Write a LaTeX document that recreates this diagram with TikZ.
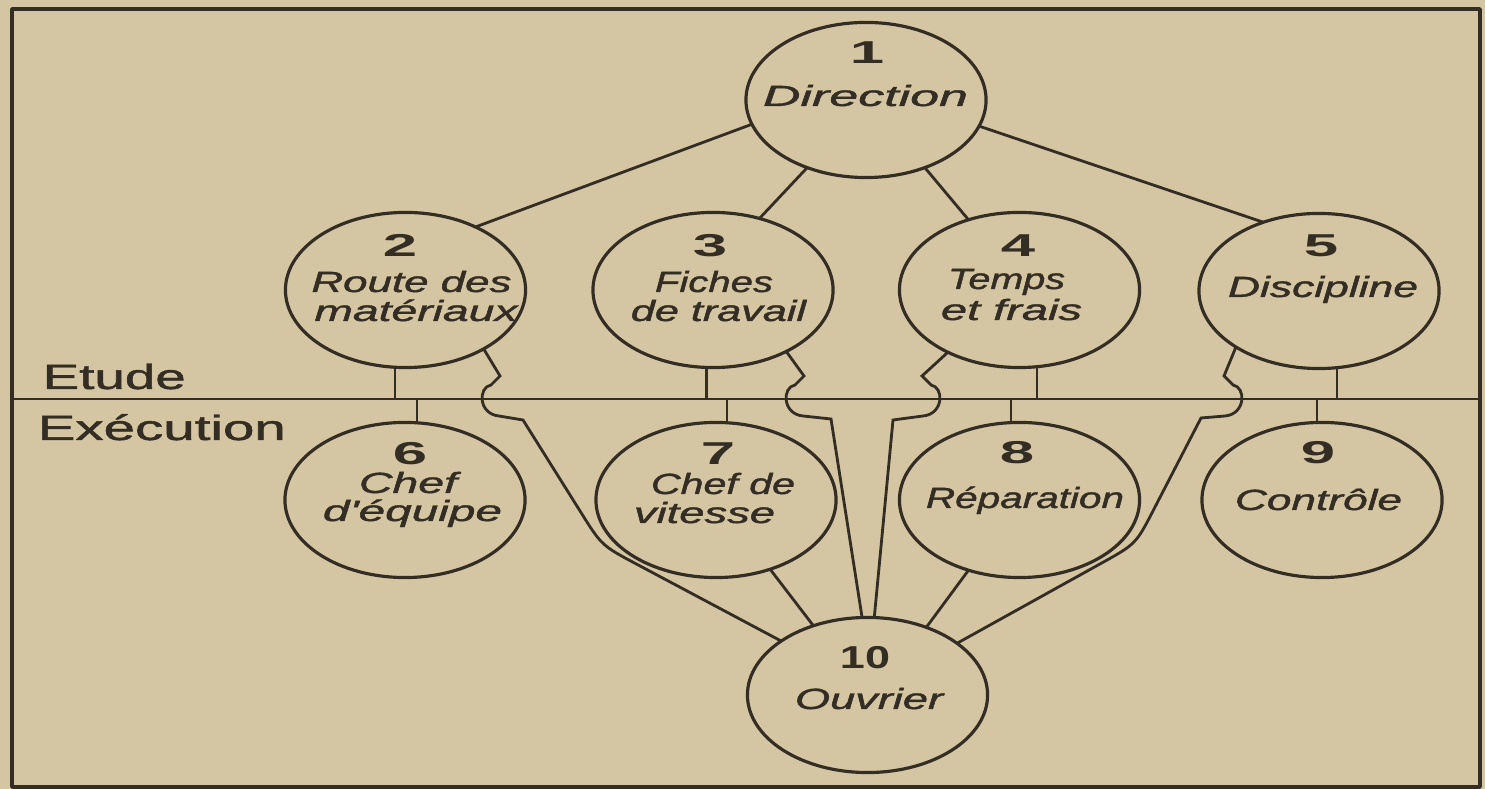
\documentclass[tikz,border=0pt]{standalone}
\usepackage{fontspec}
\setmainfont{Liberation Sans}
\newfontfamily\labfont[FakeBold=1.2]{Liberation Sans}
\usepackage{graphicx}
\usetikzlibrary{shapes.geometric}
\definecolor{paper}{RGB}{212,198,162}
\definecolor{ink}{RGB}{52,45,36}
\pgfdeclarelayer{back}
\pgfdeclarelayer{links}
\pgfsetlayers{back,links,main}
\newcommand\fitw[2]{\resizebox{#1cm}{\height}{#2}}
\newcommand\dg[1]{\scalebox{1.95}[1]{#1}}
\begin{document}
\begin{tikzpicture}[x=0.01cm,y=-0.01cm,line join=round,
  circ/.style={ellipse,draw=ink,line width=0.9pt,fill=paper,minimum width=2.4cm,minimum height=1.55cm,inner sep=0pt,outer sep=0pt},
  link/.style={draw=ink,line width=0.8pt},
  lbl/.style={anchor=base,inner sep=0pt,text=ink,font=\labfont\fontsize{8.3}{10}\selectfont\itshape},
  dig/.style={anchor=base,inner sep=0pt,text=ink,font=\fontsize{9}{11}\selectfont\bfseries},
  side/.style={anchor=base west,inner sep=0pt,text=ink,font=\labfont\fontsize{10}{12}\selectfont}]
\useasboundingbox (0,0) rectangle (1485,789);
\begin{pgfonlayer}{back}
\fill[paper] (0,0) rectangle (1485,789);
\end{pgfonlayer}
% frame and divider
\draw[ink,line width=1.0pt] (12,9) rectangle (1480,787);
\coordinate (fl) at (12,399);
\coordinate (fr) at (1480,399);
\draw[ink,line width=0.8pt] (fl) -- (fr);
% nodes
\node[circ] (c1) at (866,100) {};
\node[circ] (c2) at (405.5,290) {};
\node[circ] (c3) at (713,290) {};
\node[circ] (c4) at (1019.5,290) {};
\node[circ] (c5) at (1319,291) {};
\node[circ] (c6) at (405,500) {};
\node[circ] (c7) at (716,500) {};
\node[circ] (c8) at (1019.5,500) {};
\node[circ] (c9) at (1322,500) {};
\node[circ] (c10) at (867.5,695) {};
% labels
\node[dig] (n1) at (867,64) {\dg{1}};
\node[lbl] (t1) at (865.5,106) {\fitw{2.05}{Direction}};
\node[dig] (n2) at (400,257) {\dg{2}};
\node[lbl] (t2a) at (411.5,292) {\fitw{2.00}{Route des}};
\node[lbl] (t2b) at (416,321) {\fitw{2.03}{matériaux}};
\node[dig] (n3) at (710,257) {\dg{3}};
\node[lbl] (t3a) at (714,292) {\fitw{1.18}{Fiches}};
\node[lbl] (t3b) at (718.5,321) {\fitw{1.75}{de travail}};
\node[dig] (n4) at (1018,257) {\dg{4}};
\node[lbl] (t4a) at (1006.5,289) {\fitw{1.17}{Temps}};
\node[lbl] (t4b) at (1011.5,320) {\fitw{1.41}{et frais}};
\node[dig] (n5) at (1321,257) {\dg{5}};
\node[lbl] (t5) at (1323,297) {\fitw{1.90}{Discipline}};
\node[dig] (n6) at (410,465) {\dg{6}};
\node[lbl] (t6a) at (408,493) {\fitw{0.98}{Chef}};
\node[lbl] (t6b) at (412.5,521) {\fitw{1.79}{d'équipe}};
\node[dig] (n7) at (718,465) {\dg{7}};
\node[lbl] (t7a) at (723,494) {\fitw{1.44}{Chef de}};
\node[lbl] (t7b) at (704.5,523) {\fitw{1.41}{vitesse}};
\node[dig] (n8) at (1017,464) {\dg{8}};
\node[lbl] (t8) at (1025,508) {\fitw{1.98}{Réparation}};
\node[dig] (n9) at (1318,464) {\dg{9}};
\node[lbl] (t9) at (1318.5,510) {\fitw{1.67}{Contrôle}};
\node[dig] (n10) at (865,669) {\fitw{0.50}{10}};
\node[lbl] (t10) at (869,709) {\fitw{1.48}{Ouvrier}};
\node[side] (etude) at (42,389) {\fitw{1.43}{Etude}};
\node[side] (exec) at (37,440) {\fitw{2.48}{Exécution}};
% connectors
\begin{pgfonlayer}{links}
\draw[link] (c1.192) -- (c2.42);
\draw[link] (c1.229) -- (c3.57);
\draw[link] (c1.311) -- (c4.126);
\draw[link] (c1.347) -- (c5.129);
\coordinate (s2) at (395,399);   \draw[link] (s2) -- (s2 |- c2.center);
\coordinate (s6) at (417,399);   \draw[link] (s6) -- (s6 |- c6.center);
\coordinate (s3) at (706.5,399); \draw[link] (s3) -- (s3 |- c3.center);
\coordinate (s7) at (727,399);   \draw[link] (s7) -- (s7 |- c7.center);
\coordinate (s4) at (1037,399);  \draw[link] (s4) -- (s4 |- c4.center);
\coordinate (s8) at (1011,399);  \draw[link] (s8) -- (s8 |- c8.center);
\coordinate (s5) at (1337,399);  \draw[link] (s5) -- (s5 |- c5.center);
\coordinate (s9) at (1317,399);  \draw[link] (s9) -- (s9 |- c9.center);
\draw[link] (c7.308) -- (c10.128);
\draw[link] (c8.234) -- (c10.49);
\draw[link] (c2.323) -- (500,376) -- (491,385) .. controls (478,387) and (478,414) .. (499,416)
  -- (523,420) -- (580.4,511.6) .. controls (601.6,545.5) .. (636.9,564.3) -- (c10.148);
\draw[link] (c3.320) -- (804,376) -- (795,385) .. controls (782,387) and (782,414) .. (803,416)
  -- (831,419) -- (c10.94);
\draw[link] (c4.221) -- (922,376) -- (931,385) .. controls (944,387) and (944,414) .. (923,416)
  -- (893,420) -- (c10.85);
\draw[link] (c5.214) -- (1224,376) -- (1233,385) .. controls (1246,387) and (1246,414) .. (1225,416)
  -- (1201,418) -- (1154.3,508.4) .. controls (1136,544) .. (1101,563.4) -- (c10.30);
\end{pgfonlayer}
\end{tikzpicture}
\end{document}
